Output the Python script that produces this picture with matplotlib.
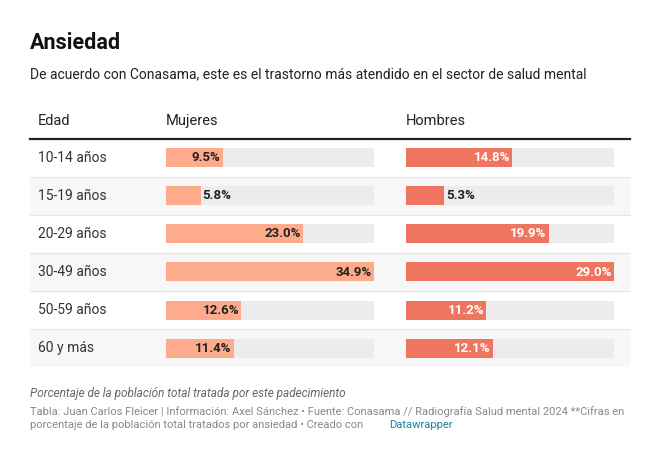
import matplotlib.pyplot as plt
from matplotlib.patches import Rectangle

plt.rcParams['font.family'] = ['Roboto', 'DejaVu Sans']

edades = ["10-14 años", "15-19 años", "20-29 años", "30-49 años", "50-59 años", "60 y más"]
mujeres = [9.5, 5.8, 23.0, 34.9, 12.6, 11.4]
hombres = [14.8, 5.3, 19.9, 29.0, 11.2, 12.1]

W, H = 659, 454
fig = plt.figure(figsize=(W / 100, H / 100), dpi=100)
bg = fig.add_axes([0, 0, 1, 1])
bg.set_xlim(0, W); bg.set_ylim(H, 0); bg.axis("off")

bg.text(30, 43, "Ansiedad", fontsize=15.5, fontweight="bold", va="center", color="#111")
bg.text(30, 74, "De acuerdo con Conasama, este es el trastorno más atendido en el sector de salud mental",
        fontsize=10, va="center", color="#222")

for x, t in [(38, "Edad"), (166, "Mujeres"), (406, "Hombres")]:
    bg.text(x, 121, t, fontsize=10.5, va="center", color="#222")
bg.plot([30, 630], [138.5, 138.5], color="#222", lw=1.6)

row_top, row_h = 139, 38
for i, e in enumerate(edades):
    y0 = row_top + i * row_h
    if i % 2 == 1:
        bg.add_patch(Rectangle((30, y0), 600, row_h, color="#f7f7f7", lw=0))
    if i > 0:
        bg.plot([30, 630], [y0, y0], color="#e4e4e4", lw=0.8)
    bg.text(38, y0 + row_h / 2, e, fontsize=10, va="center", color="#333")


def bar_col(x0, values, color, txtcol):
    ax = fig.add_axes([x0 / W, 1 - (row_top + len(values) * row_h) / H, 208 / W, len(values) * row_h / H])
    ax.set_xlim(0, max(values)); ax.set_ylim(len(values) - 0.5, -0.5); ax.axis("off")
    ax.patch.set_alpha(0)
    n = range(len(values))
    ax.barh(n, [max(values)] * len(values), height=0.5, color="#ececec")
    ax.barh(n, values, height=0.5, color=color)
    for i, v in enumerate(values):
        lab = f"{v:.1f}%"
        if v / max(values) > 0.25:
            ax.text(v - max(values) * 0.01, i, lab, ha="right", va="center", fontsize=9.5,
                    fontweight="bold", color=txtcol)
        else:
            ax.text(v + max(values) * 0.01, i, lab, ha="left", va="center", fontsize=9.5,
                    fontweight="bold", color="#222")


bar_col(166, mujeres, "#fdab8c", "#222")
bar_col(406, hombres, "#ee7661", "white")

bg.text(30, 394, "Porcentaje de la población total tratada por este padecimiento",
        fontsize=8.5, style="italic", va="center", color="#666")
bg.text(30, 412, "Tabla: Juan Carlos Fleicer | Información: Axel Sánchez • Fuente: Conasama // Radiografía Salud mental 2024 **Cifras en",
        fontsize=8, va="center", color="#888")
bg.text(30, 425, "porcentaje de la población total tratados por ansiedad • Creado con ", fontsize=8, va="center", color="#888")
bg.text(30 + 359, 425, "Datawrapper", fontsize=8, va="center", color="#1d81a2")

fig.savefig("out.png", dpi=100, facecolor="white")
